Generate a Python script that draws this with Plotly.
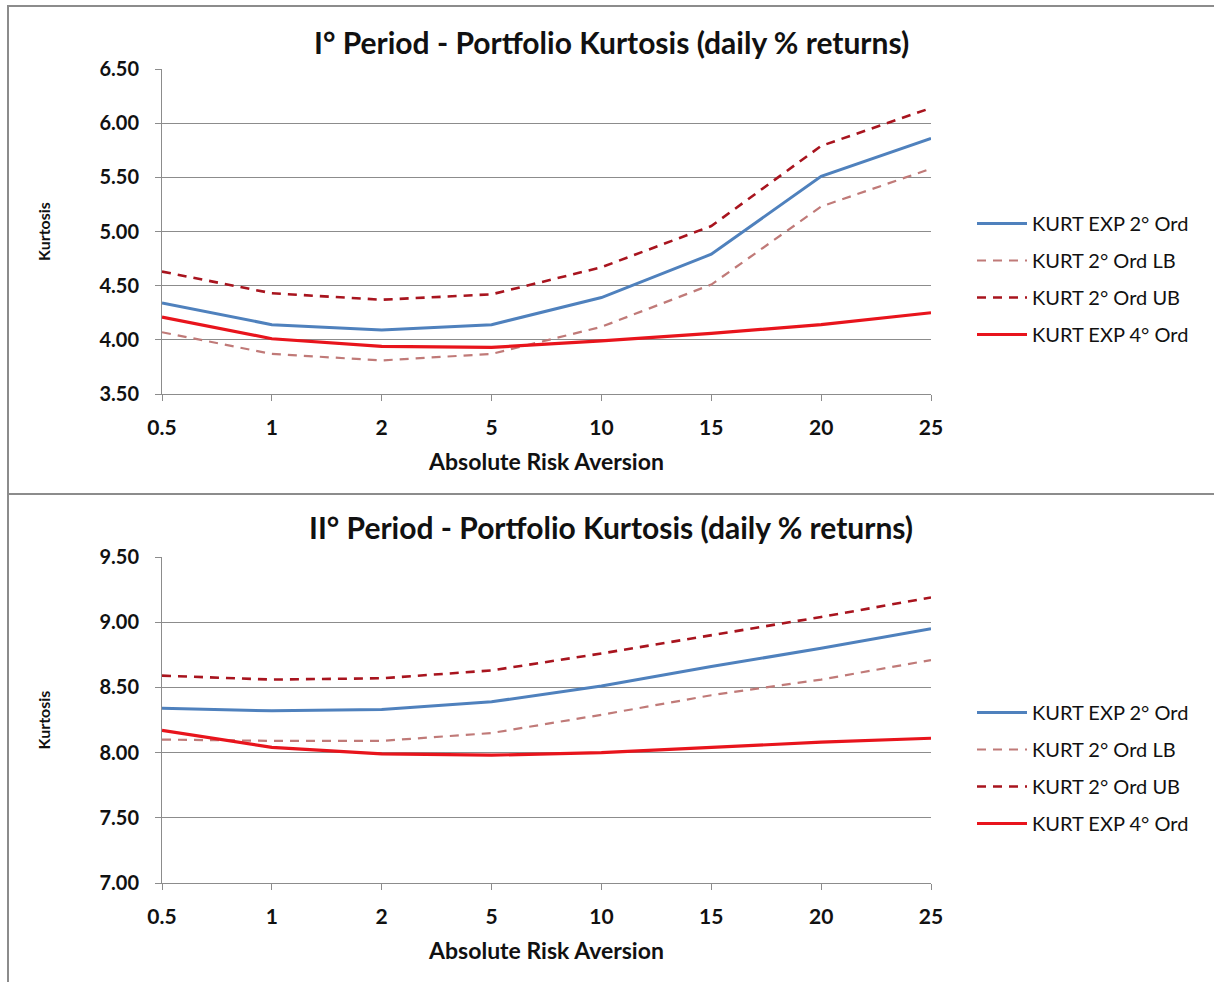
import plotly.graph_objects as go

categories = ["0.5", "1", "2", "5", "10", "15", "20", "25"]

p1_exp2 = [4.34, 4.14, 4.09, 4.14, 4.39, 4.79, 5.51, 5.86]
p1_lb = [4.07, 3.87, 3.81, 3.87, 4.12, 4.51, 5.23, 5.58]
p1_ub = [4.63, 4.43, 4.37, 4.42, 4.67, 5.05, 5.79, 6.14]
p1_exp4 = [4.21, 4.01, 3.94, 3.93, 3.99, 4.06, 4.14, 4.25]

p2_exp2 = [8.34, 8.32, 8.33, 8.39, 8.51, 8.66, 8.80, 8.95]
p2_lb = [8.10, 8.09, 8.09, 8.15, 8.29, 8.44, 8.56, 8.71]
p2_ub = [8.59, 8.56, 8.57, 8.63, 8.76, 8.90, 9.04, 9.19]
p2_exp4 = [8.17, 8.04, 7.99, 7.98, 8.00, 8.04, 8.08, 8.11]

names = ["KURT EXP 2° Ord", "KURT 2° Ord LB", "KURT 2° Ord UB", "KURT EXP 4° Ord"]
titles = ["I° Period - Portfolio Kurtosis (daily % returns)",
          "II° Period - Portfolio Kurtosis (daily % returns)"]

W, H = 1214, 982
FONT = "Lato"

styles = [
    dict(color="#4F81BD", width=3, dash="solid"),
    dict(color="#C07A78", width=2.2, dash="9px,7px"),
    dict(color="#A8141E", width=2.6, dash="9px,7px"),
    dict(color="#E8141C", width=3.2, dash="solid"),
]

fig = go.Figure()

panels = [
    dict(data=[p1_exp2, p1_lb, p1_ub, p1_exp4], xa="x", ya="y", leg="legend"),
    dict(data=[p2_exp2, p2_lb, p2_ub, p2_exp4], xa="x2", ya="y2", leg="legend2"),
]
for p in panels:
    for i, (nm, vals, st) in enumerate(zip(names, p["data"], styles)):
        fig.add_trace(go.Scatter(
            x=categories, y=vals, mode="lines", name=nm,
            line=st, xaxis=p["xa"], yaxis=p["ya"], legend=p["leg"],
            legendgroup=f"{p['leg']}_{i}",
        ))

def py(pix):
    return 1 - pix / H

def px(pix):
    return pix / W

xdom = [px(162), px(931)]
axis_common = dict(
    linecolor="#8C8C8C", linewidth=1, showline=True,
    ticks="outside", tickcolor="#8C8C8C", ticklen=6, tickwidth=1,
    automargin=False,
)
xaxis_common = dict(
    type="category", range=[0, 7], domain=xdom, showgrid=False,
    tickfont=dict(family=FONT, size=21, color="#111111", weight="bold"),
    ticklabelstandoff=9,
    title=dict(text="Absolute Risk Aversion", standoff=15,
               font=dict(family=FONT, size=23, color="#111111", weight="bold")),
    **axis_common,
)
yaxis_common = dict(
    showgrid=True, gridcolor="#8C8C8C", gridwidth=1, zeroline=False,
    tickformat=".2f", dtick=0.5,
    tickfont=dict(family=FONT, size=20, color="#111111", weight="bold"),
    ticklabelstandoff=12,
    title=dict(text="Kurtosis", standoff=44,
               font=dict(family=FONT, size=16, color="#111111", weight="bold")),
    **axis_common,
)

legend_common = dict(
    font=dict(family=FONT, size=20, color="#111111"),
    bgcolor="rgba(0,0,0,0)", borderwidth=0,
    xanchor="left", yanchor="top", tracegroupgap=8, itemwidth=50,
    traceorder="grouped",
)

fig.update_layout(
    width=W, height=H,
    margin=dict(l=0, r=0, t=0, b=0, autoexpand=False),
    paper_bgcolor="white", plot_bgcolor="white",
    showlegend=True,
    xaxis=dict(anchor="y", **xaxis_common),
    yaxis=dict(anchor="x", domain=[py(394), py(69)], range=[3.5, 6.5], **yaxis_common),
    xaxis2=dict(anchor="y2", **xaxis_common),
    yaxis2=dict(anchor="x2", domain=[py(883), py(557)], range=[7.0, 9.5], **yaxis_common),
    legend=dict(x=px(972), y=py(204), **legend_common),
    legend2=dict(x=px(972), y=py(693), **legend_common),
    shapes=[
        dict(type="rect", xref="paper", yref="paper", x0=px(8), x1=px(1230),
             y0=py(494), y1=py(6), line=dict(color="#8C8C8C", width=2)),
        dict(type="rect", xref="paper", yref="paper", x0=px(8), x1=px(1230),
             y0=py(1000), y1=py(494), line=dict(color="#8C8C8C", width=2)),
    ],
    annotations=[
        dict(text=titles[0], xref="paper", yref="paper", x=px(611), y=py(42),
             showarrow=False, xanchor="center", yanchor="middle",
             font=dict(family=FONT, size=30, color="#111111", weight="bold")),
        dict(text=titles[1], xref="paper", yref="paper", x=px(611), y=py(527),
             showarrow=False, xanchor="center", yanchor="middle",
             font=dict(family=FONT, size=30, color="#111111", weight="bold")),
    ],
)

fig.write_html("out.html")
